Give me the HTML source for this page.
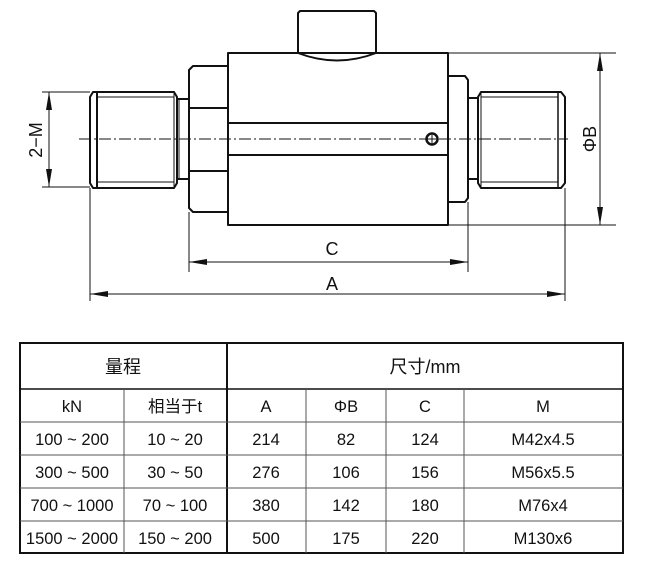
<!DOCTYPE html>
<html><head><meta charset="utf-8"><style>
html,body{margin:0;padding:0;background:#fff;}
svg{display:block;}
text{font-family:"Liberation Sans","Noto Sans CJK SC",sans-serif;fill:#111;}
</style></head><body>
<svg width="647" height="563" viewBox="0 0 647 563" xmlns="http://www.w3.org/2000/svg">
<g fill="none" stroke="#111" stroke-width="2" stroke-linejoin="round">
<path d="M93,92 L174,92 L177,97 L177,183 L174,188 L93,188 L90,183 L90,97 Z"/>
<line x1="97" y1="92" x2="97" y2="188"/>
<line x1="174" y1="92" x2="174" y2="188" stroke-width="1"/>
<path d="M177,99 L189,99 M177,179 L189,179"/>
<line x1="179" y1="99" x2="179" y2="179" stroke-width="1"/>
<path d="M228,66 L193,66 L189,70 L189,208 L193,212 L228,212"/>
<line x1="189" y1="108" x2="228" y2="108"/>
<line x1="189" y1="171" x2="228" y2="171"/>
<rect x="228" y="53" width="220" height="172"/>
<line x1="228" y1="123" x2="448" y2="123"/>
<line x1="228" y1="155" x2="448" y2="155"/>
<path d="M298,53 L298,13 L300,11 L374,11 L376,13 L376,53 Q337,68 298,53"/>
<circle cx="432" cy="139" r="5.5" stroke-width="2.5"/>
<path d="M448,76 L465,76 L468,80 L468,198 L465,202 L448,202"/>
<path d="M468,98 L478,98 M468,179 L478,179"/>
<path d="M481,92 L561,92 L565,97 L565,183 L561,188 L481,188 L478,183 L478,97 Z"/>
<line x1="481" y1="92" x2="481" y2="188" stroke-width="1"/>
<line x1="558" y1="92" x2="558" y2="188" stroke-width="1.5"/>
</g>
<g stroke="#111" stroke-width="1" fill="none">
<line x1="97" y1="97" x2="174" y2="97"/>
<line x1="97" y1="182" x2="174" y2="182"/>
<line x1="481" y1="97" x2="558" y2="97"/>
<line x1="481" y1="182" x2="558" y2="182"/>
<line x1="79" y1="139" x2="568" y2="139" stroke-dasharray="12,3,2,3"/>
<line x1="42" y1="92" x2="90" y2="92"/>
<line x1="42" y1="187" x2="90" y2="187"/>
<line x1="49" y1="92" x2="49" y2="187"/>
<line x1="448" y1="53" x2="616" y2="53"/>
<line x1="448" y1="225" x2="616" y2="225"/>
<line x1="600" y1="53" x2="600" y2="225"/>
<line x1="189" y1="212" x2="189" y2="272"/>
<line x1="468" y1="202" x2="468" y2="272"/>
<line x1="189" y1="262" x2="468" y2="262"/>
<line x1="90" y1="188" x2="90" y2="301"/>
<line x1="565" y1="188" x2="565" y2="301"/>
<line x1="90" y1="294" x2="565" y2="294"/>
</g>
<g fill="#111">
<path d="M49,92 L46,110 L52,110 Z"/><path d="M49,187 L46,169 L52,169 Z"/>
<path d="M600,53 L597,71 L603,71 Z"/><path d="M600,225 L597,207 L603,207 Z"/>
<path d="M189,262 L207,259 L207,265 Z"/><path d="M468,262 L450,259 L450,265 Z"/>
<path d="M90,294 L108,291 L108,297 Z"/><path d="M565,294 L547,291 L547,297 Z"/>
</g>
<g stroke="#111" stroke-width="1"><line x1="428" y1="139" x2="436" y2="139"/><line x1="432" y1="135" x2="432" y2="143"/></g>
<text x="0" y="0" font-size="18" text-anchor="middle" transform="translate(42,140) rotate(-90)">2−M</text>
<text x="0" y="0" font-size="18" text-anchor="middle" transform="translate(596,139) rotate(-90)">ΦB</text>
<text x="332" y="255" font-size="18" text-anchor="middle">C</text>
<text x="332" y="290" font-size="18" text-anchor="middle">A</text>
<g stroke="#111" fill="none">
<rect x="20" y="343" width="603" height="210" stroke-width="2"/>
<line x1="20" y1="389" x2="623" y2="389" stroke-width="1.5"/>
<line x1="227" y1="343" x2="227" y2="553" stroke-width="2"/>
<g stroke-width="1" stroke="#555">
<line x1="20" y1="422" x2="623" y2="422"/>
<line x1="20" y1="455" x2="623" y2="455"/>
<line x1="20" y1="488" x2="623" y2="488"/>
<line x1="20" y1="521" x2="623" y2="521"/>
<line x1="124" y1="389" x2="124" y2="553"/>
<line x1="306" y1="389" x2="306" y2="553"/>
<line x1="386" y1="389" x2="386" y2="553"/>
<line x1="464" y1="389" x2="464" y2="553"/>
</g>
</g>
<g font-size="18" text-anchor="middle">
<text x="123" y="373">量程</text>
<text x="425" y="373">尺寸/mm</text>
</g>
<g font-size="16.5" text-anchor="middle">
<text x="72" y="412">kN</text><text x="175" y="412">相当于t</text><text x="266" y="412">A</text><text x="346" y="412">ΦB</text><text x="425" y="412">C</text><text x="543" y="412">M</text>
<text x="72" y="445">100 ~ 200</text><text x="175" y="445">10 ~ 20</text><text x="266" y="445">214</text><text x="346" y="445">82</text><text x="425" y="445">124</text><text x="543" y="445">M42x4.5</text>
<text x="72" y="478">300 ~ 500</text><text x="175" y="478">30 ~ 50</text><text x="266" y="478">276</text><text x="346" y="478">106</text><text x="425" y="478">156</text><text x="543" y="478">M56x5.5</text>
<text x="72" y="511">700 ~ 1000</text><text x="175" y="511">70 ~ 100</text><text x="266" y="511">380</text><text x="346" y="511">142</text><text x="425" y="511">180</text><text x="543" y="511">M76x4</text>
<text x="72" y="544">1500 ~ 2000</text><text x="175" y="544">150 ~ 200</text><text x="266" y="544">500</text><text x="346" y="544">175</text><text x="425" y="544">220</text><text x="543" y="544">M130x6</text>
</g>
</svg>
</body></html>
